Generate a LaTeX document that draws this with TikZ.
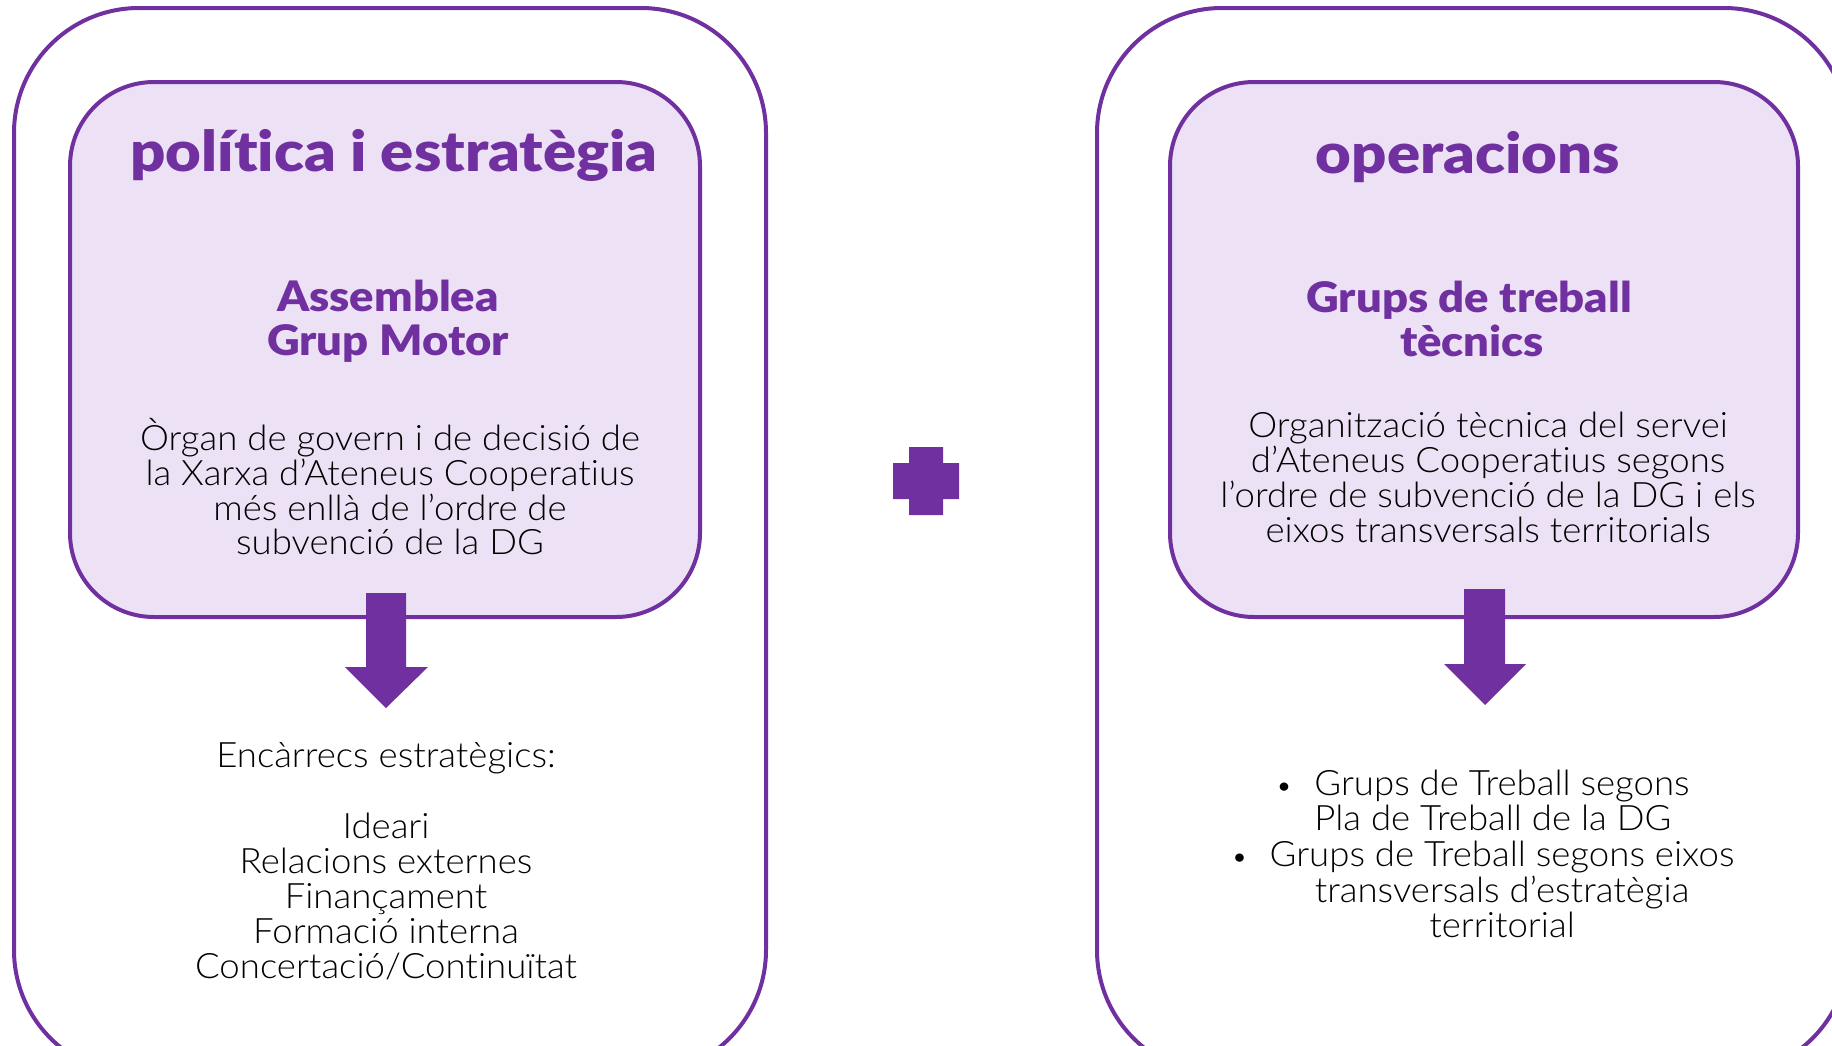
\documentclass[tikz,border=0pt]{standalone}
\usepackage{fontspec}
\newfontfamily\titlefont{Lato Black}[FakeStretch=1.1, Ligatures=NoCommon]
\newfontfamily\subfont{Lato Black}[FakeStretch=1.08, Ligatures=NoCommon]
\newfontfamily\bodyfont{Lato Light}[FakeStretch=1.045, Ligatures=NoCommon]
\definecolor{purp}{HTML}{7030A0}
\definecolor{lav}{HTML}{EDE2F5}
\begin{document}
\begin{tikzpicture}[x=1pt,y=-1pt,
  outerbox/.style={draw=purp, line width=4pt, rounded corners=125pt, rectangle, inner sep=0pt},
  innerbox/.style={draw=purp, fill=lav, line width=4pt, rounded corners=84pt, rectangle, inner sep=0pt},
  ttl/.style={font=\titlefont\fontsize{56}{60}\selectfont, text=purp, inner sep=0pt, anchor=base},
  subttl/.style={font=\subfont\fontsize{42}{46}\selectfont, text=purp, inner sep=0pt, anchor=base},
  body/.style={font=\bodyfont\fontsize{35}{35}\selectfont, text=black, inner sep=0pt, anchor=base},
  bulletmark/.style={font=\bodyfont\fontsize{28}{28}\selectfont, text=black, inner sep=0pt, anchor=base},
  blockarrow/.style={fill=purp, draw=none}]
\useasboundingbox (0,0) rectangle (1832,1045);
% outer boxes
\node[outerbox, minimum width=752pt, minimum height=1067pt] (outL) at (390,541.5) {};
\node[outerbox, minimum width=752pt, minimum height=1067pt] (outR) at (1473,541.5) {};
% inner boxes
\node[innerbox, minimum width=630pt, minimum height=535pt] (inL) at (385,349.5) {};
\node[innerbox, minimum width=628pt, minimum height=535pt] (inR) at (1484,349.5) {};
% left texts
\node[ttl] (tL) at (394,171) {política i estratègia};
\node[subttl] (sL1) at (388,311) {Assemblea};
\node[subttl] (sL2) at (388,355) {Grup Motor};
\node[body] (bL1) at (390,450) {Òrgan de govern i de decisió de};
\node[body] (bL2) at (390,485) {la Xarxa d’Ateneus Cooperatius};
\node[body] (bL3) at (390,520) {més enllà de l’ordre de};
\node[body] (bL4) at (390,554) {subvenció de la DG};
\node[body] (eL0) at (386,767) {Encàrrecs estratègics:};
\node[body] (eL1) at (386,838) {Ideari};
\node[body] (eL2) at (386,873) {Relacions externes};
\node[body] (eL3) at (386,908) {Finançament};
\node[body] (eL4) at (386,943) {Formació interna};
\node[body] (eL5) at (386,978) {Concertació/Continuïtat};
% right texts
\node[ttl] (tR) at (1468,173) {operacions};
\node[subttl] (sR1) at (1469,312) {Grups de treball};
\node[subttl] (sR2) at (1472,356) {tècnics};
\node[body] (bR1) at (1488,437) {Organització tècnica del servei};
\node[body] (bR2) at (1488,472) {d’Ateneus Cooperatius segons};
\node[body] (bR3) at (1488,507) {l’ordre de subvenció de la DG i els};
\node[body] (bR4) at (1488,542) {eixos transversals territorials};
\node[body] (gR1) at (1502,795) {Grups de Treball segons};
\node[body, anchor=base west] (gR2) at (gR1.base west |- 0,830) {Pla de Treball de la DG};
\node[body] (gR3) at (1502,866) {Grups de Treball segons eixos};
\node[body] (gR4) at (1502,902) {transversals d’estratègia};
\node[body] (gR5) at (1502,937) {territorial};
\node[bulletmark] (bu1) at ([xshift=-30pt]gR1.base west) {•};
\node[bulletmark] (bu2) at ([xshift=-30pt]gR3.base west) {•};
% block arrows
\fill[blockarrow] (366,593) -- (406,593) -- (406,667) -- (428,667) -- (386,708) -- (345,667) -- (366,667) -- cycle;
\fill[blockarrow] (1464,589) -- (1505,589) -- (1505,664) -- (1526,664) -- (1485,705) -- (1444,664) -- (1464,664) -- cycle;
% plus
\fill[blockarrow] (909,447) -- (943,447) -- (943,463) -- (959,463) -- (959,499) -- (943,499) -- (943,515) -- (909,515) -- (909,499) -- (893,499) -- (893,463) -- (909,463) -- cycle;
\end{tikzpicture}
\end{document}
